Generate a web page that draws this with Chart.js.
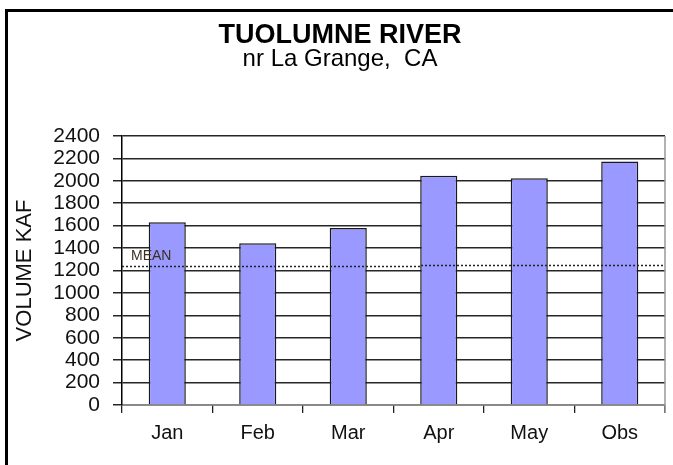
<!DOCTYPE html>
<html>
<head>
<meta charset="utf-8">
<script src="https://cdn.jsdelivr.net/npm/chart.js@4.4.1/dist/chart.umd.min.js"></script>
<style>
  html, body { margin: 0; padding: 0; background: #fff; overflow: hidden; }
  #wrap { position: relative; width: 673px; height: 465px; }
  #frame { position: absolute; left: 5px; top: 9px; width: 700px; height: 500px;
           border-left: 3px solid #000; border-top: 3px solid #000; box-sizing: border-box; }
  canvas { position: absolute; left: 0; top: 0; }
</style>
</head>
<body>
<div id="wrap">
  <div id="frame"></div>
  <canvas id="chart" width="673" height="465"></canvas>
</div>
<script>
(function() {
  'use strict';

  const categories = ['Jan', 'Feb', 'Mar', 'Apr', 'May', 'Obs'];
  const volumes    = [1630, 1443, 1580, 2045, 2022, 2172];
  const meanValues = [1237, 1237, 1237, 1252, 1252, 1252];
  const yTicks     = [0, 200, 400, 600, 800, 1000, 1200, 1400, 1600, 1800, 2000, 2200, 2400];

  const FONT = '"Liberation Sans", Arial, sans-serif';

  // Dotted mean line, stepping at the left edge of the Apr bar
  const meanLine = {
    id: 'meanLine',
    afterDatasetsDraw(chart) {
      const { ctx, chartArea, scales } = chart;
      const bars = chart.getDatasetMeta(0).data;
      const y = scales.y;
      ctx.save();
      ctx.strokeStyle = '#222';
      ctx.lineWidth = 1.3;
      ctx.setLineDash([2, 2]);
      ctx.beginPath();
      let py = Math.round(y.getPixelForValue(meanValues[0])) + 0.5;
      ctx.moveTo(chartArea.left, py);
      for (let i = 1; i < meanValues.length; i++) {
        if (meanValues[i] !== meanValues[i - 1]) {
          const edge = bars[i].x - bars[i].width / 2;
          ctx.lineTo(edge, py);
          py = Math.round(y.getPixelForValue(meanValues[i])) + 0.5;
          ctx.lineTo(edge, py);
        }
      }
      ctx.lineTo(chartArea.right, py);
      ctx.stroke();
      ctx.setLineDash([]);
      ctx.fillStyle = '#3a3020';
      ctx.font = '14px ' + FONT;
      ctx.textBaseline = 'bottom';
      ctx.fillText('MEAN', chartArea.left + 9, y.getPixelForValue(meanValues[0]) - 3);
      ctx.restore();
    }
  };

  new Chart(document.getElementById('chart'), {
    type: 'bar',
    data: {
      labels: categories,
      datasets: [{
        data: volumes,
        backgroundColor: '#9999ff',
        borderColor: '#1a1a1a',
        borderWidth: 1.5,
        categoryPercentage: 1,
        barPercentage: 0.41
      }]
    },
    options: {
      responsive: false,
      animation: false,
      events: [],
      layout: { padding: { left: 15, right: 8, top: 0, bottom: 0 } },
      plugins: {
        legend: { display: false },
        tooltip: { enabled: false },
        title: {
          display: true,
          text: 'TUOLUMNE RIVER',
          color: '#000',
          font: { family: FONT, size: 27, weight: 'bold', lineHeight: 0.85 },
          padding: { top: 24, bottom: 0 }
        },
        subtitle: {
          display: true,
          text: 'nr La Grange,  CA',
          color: '#000',
          font: { family: FONT, size: 24, lineHeight: 1 },
          padding: { top: 0, bottom: 65 }
        }
      },
      scales: {
        x: {
          afterFit(s) { s.height = 60; },
          grid: { display: true, drawOnChartArea: false, drawTicks: true, tickLength: 8, color: '#222', lineWidth: 1.3 },
          border: { display: true, color: '#888', width: 1.5 },
          ticks: { color: '#111', padding: 8, font: { family: FONT, size: 20 } }
        },
        y: {
          min: 0,
          max: 2400,
          afterFit(s) { s.width = 107; },
          afterBuildTicks(s) { s.ticks = yTicks.map(v => ({ value: v })); },
          grid: { color: '#262626', lineWidth: 1.5, tickLength: 9 },
          border: { display: true, color: '#000', width: 1.5 },
          ticks: { color: '#111', padding: 13, autoSkip: false, callback: v => String(v), font: { family: FONT, size: 21 } },
          title: {
            display: true,
            text: 'VOLUME KAF',
            color: '#111',
            font: { family: FONT, size: 22, lineHeight: 0.9 },
            padding: { top: 0, bottom: 0 }
          }
        }
      }
    },
    plugins: [meanLine, {
      id: 'rightEdge',
      afterDraw(chart) {
        const { ctx, chartArea } = chart;
        ctx.save();
        ctx.strokeStyle = '#999';
        ctx.lineWidth = 1.5;
        ctx.beginPath();
        ctx.moveTo(chartArea.right, chartArea.top);
        ctx.lineTo(chartArea.right, chartArea.bottom + 8);
        ctx.stroke();
        ctx.restore();
      }
    }]
  });
})();
</script>
</body>
</html>
